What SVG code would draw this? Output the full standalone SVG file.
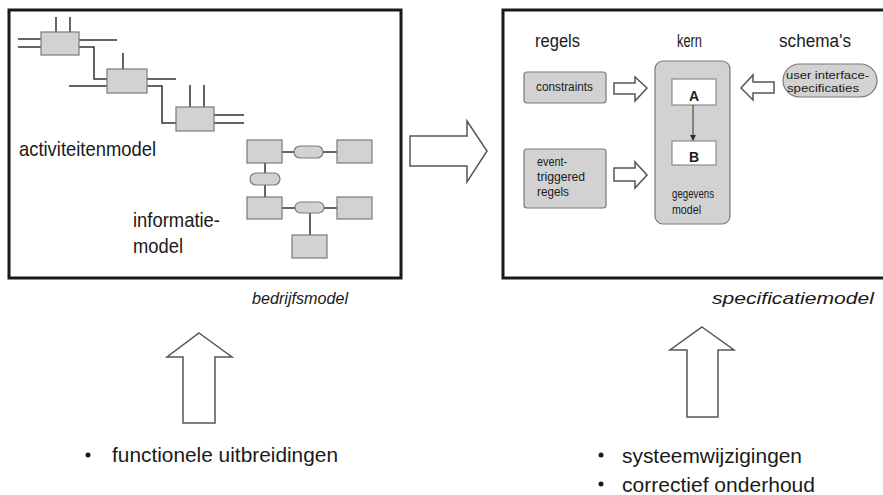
<svg xmlns="http://www.w3.org/2000/svg" width="883" height="495" viewBox="0 0 883 495">
<style>
text{font-family:"Liberation Sans",Arial,sans-serif;fill:#1a1a1a}
.frame{fill:none;stroke:#1a1a1a;stroke-width:3}
.g{fill:#d2d2d2;stroke:#7a7a7a;stroke-width:1.2}
.w{fill:#ffffff;stroke:#8a8a8a;stroke-width:1.2}
.ln{fill:none;stroke:#333;stroke-width:1.5}
.bigarrow{fill:#fff;stroke:#555;stroke-width:1.5;stroke-linejoin:miter}
.lbl{font-size:21px}
.it{font-size:17px;font-style:italic}
.bul{font-size:21px}
.sm{font-size:12.5px}
.xs{font-size:11px}
.hd{font-size:18px}
</style>
<defs>
<marker id="ah" markerWidth="6" markerHeight="6" refX="5" refY="3" orient="auto" markerUnits="userSpaceOnUse">
<path d="M0,0 L6,3 L0,6 z" fill="#333"/>
</marker>
</defs>

<g id="bedrijfsmodel">
<rect class="frame" x="9" y="10" width="392" height="268"/>
<g id="activiteitenmodel">
<path class="ln" d="M56,17 V32 M70,17 V32 M18,39 H41 M18,47 H41 M79,40 H117 M79,47 H94 V79 H107"/>
<rect class="g" x="41" y="32" width="38" height="23"/>
<path class="ln" d="M123,53 V69 M69,86 H107 M147,79 H176 M147,86 H162 V123 H176"/>
<rect class="g" x="107" y="69" width="40" height="24"/>
<path class="ln" d="M190,85 V107 M204,85 V107 M214,115 H244 M214,123 H244"/>
<rect class="g" x="176" y="107" width="38" height="24"/>
<text class="lbl" x="19" y="156" textLength="137" lengthAdjust="spacingAndGlyphs">activiteitenmodel</text>
</g>
<g id="informatiemodel">
<path class="ln" d="M282,152 H337 M265,163 V197 M282,208 H337 M310,208 V235"/>
<rect class="g" x="247" y="140" width="35" height="23"/>
<rect class="g" x="294" y="146" width="29" height="12" rx="6"/>
<rect class="g" x="337" y="140" width="35" height="23"/>
<rect class="g" x="250" y="173" width="30" height="12" rx="6"/>
<rect class="g" x="247" y="197" width="35" height="22"/>
<rect class="g" x="295" y="202" width="29" height="11" rx="5.5"/>
<rect class="g" x="337" y="197" width="35" height="22"/>
<rect class="g" x="292" y="235" width="35" height="23"/>
<text class="lbl" x="133" y="227" textLength="87" lengthAdjust="spacingAndGlyphs">informatie-</text>
<text class="lbl" x="133" y="253" textLength="50" lengthAdjust="spacingAndGlyphs">model</text>
</g>
<text class="it" x="252" y="304" textLength="96" lengthAdjust="spacingAndGlyphs">bedrijfsmodel</text>
</g>

<g id="specificatiemodel">
<rect class="frame" x="503" y="10" width="400" height="268"/>
<text class="hd" x="535" y="47" textLength="45" lengthAdjust="spacingAndGlyphs">regels</text>
<text class="hd" x="677" y="47" textLength="25" lengthAdjust="spacingAndGlyphs">kern</text>
<text class="hd" x="779" y="47" textLength="72" lengthAdjust="spacingAndGlyphs">schema's</text>
<g id="constraints">
<rect class="g" x="524" y="72" width="82" height="31" rx="3"/>
<text class="sm" x="536" y="91" textLength="57" lengthAdjust="spacingAndGlyphs">constraints</text>
</g>
<g id="event">
<rect class="g" x="524" y="149" width="82" height="59" rx="3"/>
<text class="sm" x="537" y="166" textLength="30" lengthAdjust="spacingAndGlyphs">event-</text>
<text class="sm" x="537" y="181" textLength="48" lengthAdjust="spacingAndGlyphs">triggered</text>
<text class="sm" x="537" y="196" textLength="32" lengthAdjust="spacingAndGlyphs">regels</text>
</g>
<g id="kern">
<rect class="g" x="655" y="61" width="75" height="163" rx="8"/>
<rect class="w" x="672" y="79" width="44" height="26"/>
<text x="694" y="101" font-size="14" font-weight="bold" text-anchor="middle">A</text>
<rect class="w" x="672" y="141" width="44" height="24"/>
<text x="694" y="162" font-size="14" font-weight="bold" text-anchor="middle">B</text>
<text class="sm" x="672" y="198" textLength="42" lengthAdjust="spacingAndGlyphs">gegevens</text>
<text class="sm" x="672" y="214" textLength="29" lengthAdjust="spacingAndGlyphs">model</text>
</g>
<g id="ui">
<rect class="g" x="783" y="64" width="94" height="33" rx="16.5"/>
<text class="xs" x="786" y="79" textLength="83" lengthAdjust="spacingAndGlyphs">user interface-</text>
<text class="xs" x="787" y="92" textLength="72" lengthAdjust="spacingAndGlyphs">specificaties</text>
</g>
<text class="it" x="712" y="304" textLength="162" lengthAdjust="spacingAndGlyphs">specificatiemodel</text>
</g>

<g id="connectors">
<polygon class="bigarrow" points="410,136 467,136 467,121 487,151 467,182 467,166 410,166"/>
<polygon class="bigarrow" points="614,83 635,83 635,77 647,88 635,101 635,94 614,94" stroke-width="1.2"/>
<polygon class="bigarrow" points="614,168 635,168 635,162 647,175 635,188 635,181 614,181" stroke-width="1.2"/>
<polygon class="bigarrow" points="774,82 753,82 753,75 741,88 753,100 753,93 774,93" stroke-width="1.2"/>
<line x1="693" y1="105" x2="693" y2="140" stroke="#333" stroke-width="1" marker-end="url(#ah)"/>
<polygon class="bigarrow" points="199,333 232,357 215,357 215,423 183,423 183,357 167,357"/>
<polygon class="bigarrow" points="702,327 734,350 718,350 718,417 687,417 687,350 670,350"/>
</g>

<g id="notes">
<circle cx="88" cy="455" r="2.5" fill="#1a1a1a"/>
<text class="bul" x="112" y="462" textLength="226" lengthAdjust="spacingAndGlyphs">functionele uitbreidingen</text>
<circle cx="601" cy="455" r="2.5" fill="#1a1a1a"/>
<text class="bul" x="622" y="463" textLength="180" lengthAdjust="spacingAndGlyphs">systeemwijzigingen</text>
<circle cx="601" cy="484" r="2.5" fill="#1a1a1a"/>
<text class="bul" x="622" y="492" textLength="193" lengthAdjust="spacingAndGlyphs">correctief onderhoud</text>
</g>
</svg>
